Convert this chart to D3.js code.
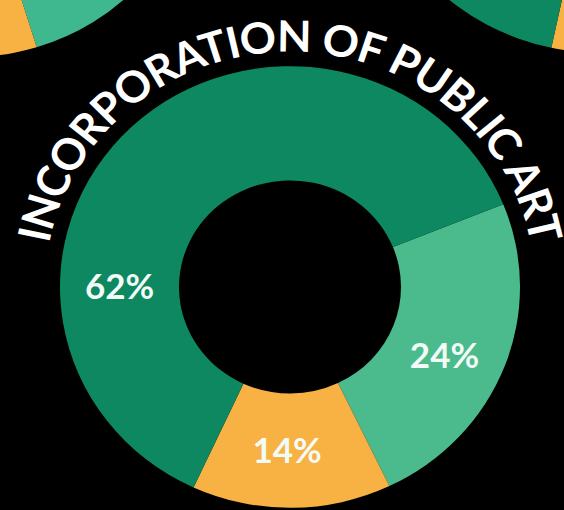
<!DOCTYPE html>
<html><head><meta charset="utf-8">
<script src="https://cdn.jsdelivr.net/npm/d3@7"></script>
<style>html,body{margin:0;padding:0;background:#000;overflow:hidden;} svg{display:block;}</style>
</head><body>
<svg id="chart" width="564" height="510"></svg>
<script>
// ---- data ----
const title = "INCORPORATION OF PUBLIC ART";
const categories = ["Segment A", "Segment B", "Segment C"];
const values = [24, 14, 62];
const valueLabels = ["24%", "14%", "62%"];
const colors = ["#4bbb8d", "#f8b143", "#0d8860"];

// neighbouring chart fragments (decorative, partially visible at top)
const leftFragValues = [63, 97];
const leftFragColors = ["#3fb78f", "#f8b143"];
const rightFragValues = [92, 68];
const rightFragColors = ["#f8b143", "#0d8860"];

// ---- layout ----
const W = 564, H = 510;
const cx = 290, cy = 287, sy = 0.96;
const rOuter = 230, rInner = 111, rText = 245;
const startDeg = 68;
const labelAngleDeg = [115, 181, 270];
const rad = d => d * Math.PI / 180;

const svg = d3.select("#chart");
svg.append("rect").attr("width", W).attr("height", H).attr("fill", "#000");

// decorative neighbours
function fragment(vals, cols, x, y, r, a0, a1) {
  const pie = d3.pie().sort(null).startAngle(rad(a0)).endAngle(rad(a1));
  const arc = d3.arc().innerRadius(r * 0.48).outerRadius(r);
  const g = svg.append("g").attr("transform", `translate(${x},${y}) scale(1,${sy})`);
  g.selectAll("path").data(pie(vals)).join("path")
    .attr("d", arc).attr("fill", (d, i) => cols[i]);
}
fragment(leftFragValues, leftFragColors, -30, -162, 228, 100, 260);
fragment(rightFragValues, rightFragColors, 600, -172, 234, 100, 260);

const g = svg.append("g").attr("transform", `translate(${cx},${cy}) scale(1,${sy})`);

const pie = d3.pie().sort(null).startAngle(rad(startDeg)).endAngle(rad(startDeg + 360));
const arc = d3.arc().innerRadius(rInner).outerRadius(rOuter);
const arcs = pie(values);

g.selectAll("path.slice").data(arcs).join("path")
  .attr("class", "slice")
  .attr("d", arc)
  .attr("fill", (d, i) => colors[i]);

const rLab = (rInner + rOuter) / 2;
g.selectAll("text.val").data(arcs).join("text")
  .attr("class", "val")
  .attr("x", (d, i) => rLab * Math.sin(rad(labelAngleDeg[i])))
  .attr("y", (d, i) => -rLab * Math.cos(rad(labelAngleDeg[i])))
  .attr("text-anchor", "middle")
  .attr("dy", "0.36em")
  .attr("fill", "#f3fbf7")
  .style("font-family", "Lato, 'DejaVu Sans', sans-serif")
  .style("font-weight", 700)
  .style("font-size", "35px")
  .text((d, i) => valueLabels[i]);

// curved title
const a0 = rad(-89), a1 = rad(89);
g.append("path").attr("id", "titlePath")
  .attr("d", `M ${rText * Math.sin(a0)} ${-rText * Math.cos(a0)} A ${rText} ${rText} 0 0 1 ${rText * Math.sin(a1)} ${-rText * Math.cos(a1)}`)
  .attr("fill", "none");
const t = g.append("text")
  .attr("fill", "#ffffff")
  .style("font-family", "Lato, 'DejaVu Sans', sans-serif")
  .style("font-weight", 700)
  .style("font-size", "45px");
const tp = t.append("textPath")
  .attr("href", "#titlePath")
  .attr("startOffset", "50%")
  .attr("text-anchor", "middle")
  .text(title);
const targetLen = rText * rad(159);
const natural = t.node().getComputedTextLength();
const ls = (targetLen - natural) / (title.length - 1);
t.style("letter-spacing", ls + "px");
</script>
</body></html>
